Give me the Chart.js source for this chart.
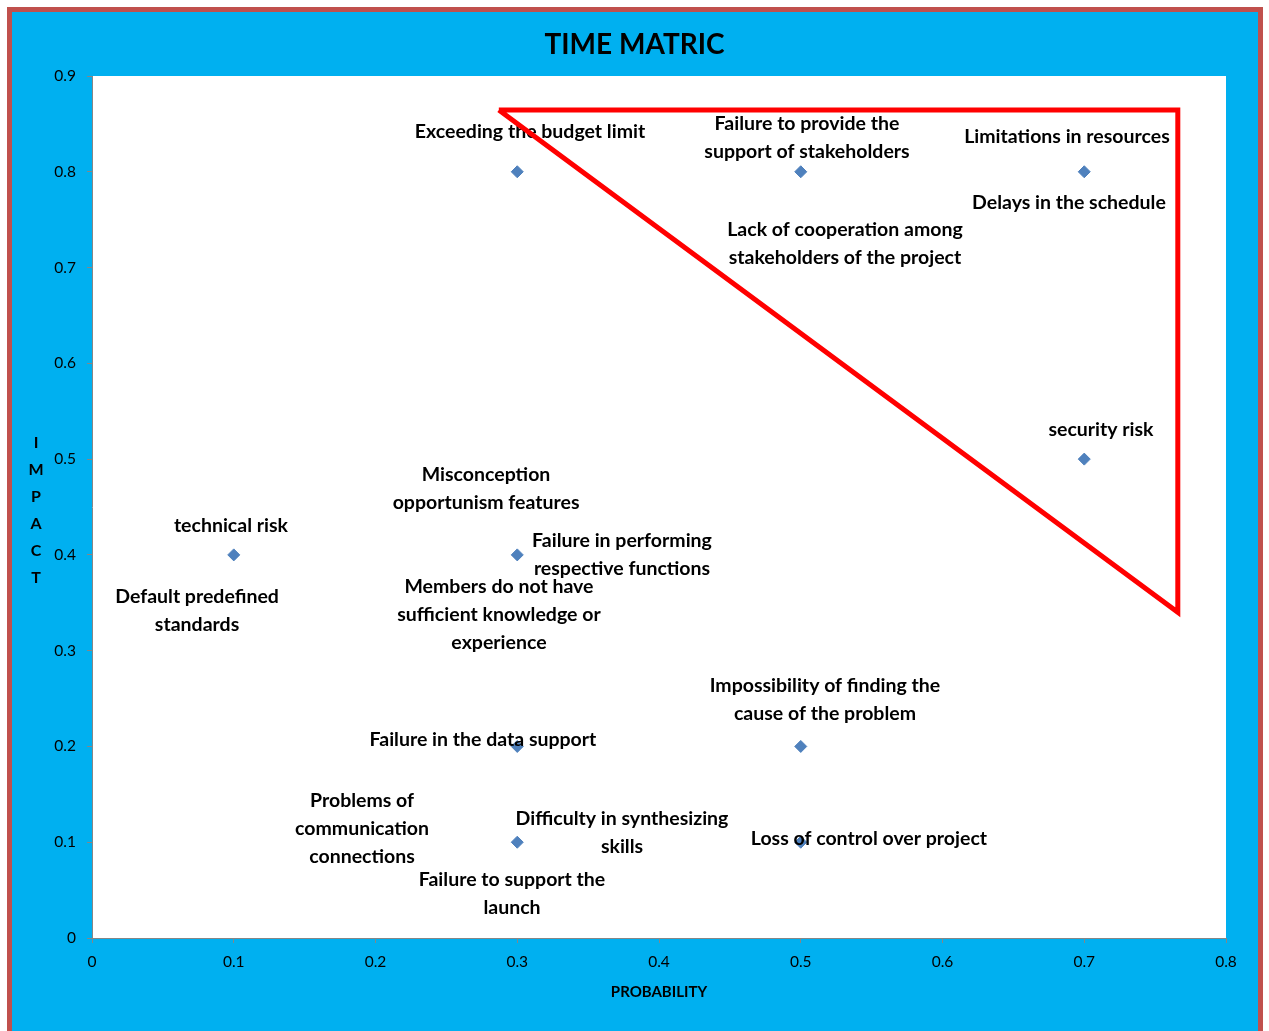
<!DOCTYPE html>
<html>
<head>
<meta charset="utf-8">
<title>Time Matric</title>
<script src="https://cdn.jsdelivr.net/npm/chart.js@4"></script>
<style>
  html, body { margin: 0; padding: 0; background: #ffffff; overflow: hidden; }
  #frame {
    position: absolute; left: 7px; top: 7px; width: 1246px; height: 1040px;
    border: 5px solid #C0504D; background: #00B0F0;
  }
  #wrap { position: absolute; left: 0; top: 0; width: 1269px; height: 1031px; }
</style>
</head>
<body>
<div id="frame"></div>
<div id="wrap"><canvas id="riskChart"></canvas></div>
<script>
// ---- data ----
const probability = [0.1, 0.3, 0.5, 0.7, 0.7, 0.3, 0.3, 0.5, 0.3, 0.5];
const impact      = [0.4, 0.8, 0.8, 0.8, 0.5, 0.4, 0.2, 0.2, 0.1, 0.1];

// red triangle (data units)
const triangleX = [0.287, 0.766, 0.766, 0.287];
const triangleY = [0.8645, 0.8645, 0.340, 0.8645];

const xTickLabels = ['0', '0.1', '0.2', '0.3', '0.4', '0.5', '0.6', '0.7', '0.8'];
const yTickLabels = ['0', '0.1', '0.2', '0.3', '0.4', '0.5', '0.6', '0.7', '0.8', '0.9'];

// risk labels (lines of text)
const riskTexts = [
  ['Exceeding the budget limit'],
  ['Failure to provide the', 'support of stakeholders'],
  ['Limitations in resources'],
  ['Delays in the schedule'],
  ['Lack of cooperation among', 'stakeholders of the project'],
  ['security risk'],
  ['Misconception', 'opportunism features'],
  ['technical risk'],
  ['Failure in performing', 'respective functions'],
  ['Default predefined', 'standards'],
  ['Members do not have', 'sufficient knowledge or', 'experience'],
  ['Impossibility of finding the', 'cause of the problem'],
  ['Failure in the data support'],
  ['Problems of', 'communication', 'connections'],
  ['Difficulty in synthesizing', 'skills'],
  ['Loss of control over project'],
  ['Failure to support the', 'launch']
];
// where each label's first line sits (data units)
const riskLabelX = [0.309, 0.5044, 0.6878, 0.6892, 0.5312, 0.7118, 0.278, 0.098, 0.3739, 0.0741, 0.2871, 0.5171, 0.2758, 0.1905, 0.3739, 0.5481, 0.2963];
const riskLabelY = [0.8415, 0.8499, 0.8363, 0.7674, 0.7392, 0.5304, 0.4834, 0.4302, 0.4145, 0.356, 0.3665, 0.2631, 0.2067, 0.143, 0.1242, 0.1034, 0.0606];

const FONT = 'Lato, "Open Sans", sans-serif';

// white plot area
const plotBackground = {
  id: 'plotBackground',
  beforeDraw(chart) {
    const { ctx, chartArea: a } = chart;
    ctx.save();
    ctx.fillStyle = '#ffffff';
    ctx.fillRect(a.left, a.top, a.right - a.left, a.bottom - a.top);
    ctx.restore();
  }
};

// risk text, drawn right after the diamonds so the triangle sits on top
const riskLabels = {
  id: 'riskLabels',
  afterDatasetDraw(chart, args) {
    if (args.index !== 1) return;
    const { ctx, scales: { x, y } } = chart;
    ctx.save();
    ctx.font = 'bold 19.5px ' + FONT;
    ctx.fillStyle = '#000000';
    ctx.textAlign = 'center';
    ctx.textBaseline = 'middle';
    riskTexts.forEach((lines, i) => {
      const px = x.getPixelForValue(riskLabelX[i]);
      const py = y.getPixelForValue(riskLabelY[i]);
      lines.forEach((t, j) => ctx.fillText(t, px, py + j * 28));
    });
    ctx.restore();
  }
};

// stacked vertical "IMPACT"
const impactTitle = {
  id: 'impactTitle',
  afterDraw(chart) {
    const { ctx } = chart;
    ctx.save();
    ctx.font = 'bold 16px ' + FONT;
    ctx.fillStyle = '#000000';
    ctx.textAlign = 'center';
    ctx.textBaseline = 'middle';
    'IMPACT'.split('').forEach((c, i) => ctx.fillText(c, 36, 443 + i * 27));
    ctx.restore();
  }
};

const ctx = document.getElementById('riskChart').getContext('2d');
new Chart(ctx, {
  type: 'scatter',
  data: {
    datasets: [
      {
        type: 'line',
        data: triangleX.map((v, i) => ({ x: v, y: triangleY[i] })),
        borderColor: '#FF0000',
        borderWidth: 5,
        pointRadius: 0,
        fill: false,
        tension: 0
      },
      {
        data: probability.map((v, i) => ({ x: v, y: impact[i] })),
        pointStyle: 'rectRot',
        pointRadius: 6,
        backgroundColor: '#4F81BD',
        borderColor: '#4F81BD',
        borderWidth: 1
      }
    ]
  },
  options: {
    responsive: true,
    maintainAspectRatio: false,
    animation: false,
    layout: { padding: { left: 43, right: 43, top: 0, bottom: 0 } },
    plugins: {
      legend: { display: false },
      tooltip: { enabled: false },
      title: {
        display: true,
        text: 'TIME MATRIC',
        color: '#000000',
        font: { family: FONT, size: 28, weight: 'bold' },
        padding: { top: 28, bottom: 14.4 }
      }
    },
    scales: {
      x: {
        type: 'linear',
        min: 0, max: 0.8,
        afterFit(s) { s.height = 93; },
        border: { color: '#868686', width: 1 },
        grid: { drawOnChartArea: false, tickLength: 5, color: '#868686' },
        ticks: {
          stepSize: 0.1,
          padding: 10,
          color: '#000000',
          font: { family: FONT, size: 15.5 },
          callback: (v, i) => xTickLabels[i]
        },
        title: {
          display: true,
          text: 'PROBABILITY',
          color: '#000000',
          font: { family: FONT, size: 15, weight: 'bold' },
          padding: { top: 0, bottom: 30 }
        }
      },
      y: {
        type: 'linear',
        min: 0, max: 0.9,
        afterFit(s) { s.width = 49; },
        border: { color: '#868686', width: 1 },
        grid: { drawOnChartArea: false, tickLength: 5, color: '#868686' },
        ticks: {
          stepSize: 0.1,
          padding: 11,
          color: '#000000',
          font: { family: FONT, size: 15.5 },
          callback: (v, i) => yTickLabels[i]
        }
      }
    }
  },
  plugins: [plotBackground, riskLabels, impactTitle]
});
</script>
</body>
</html>
